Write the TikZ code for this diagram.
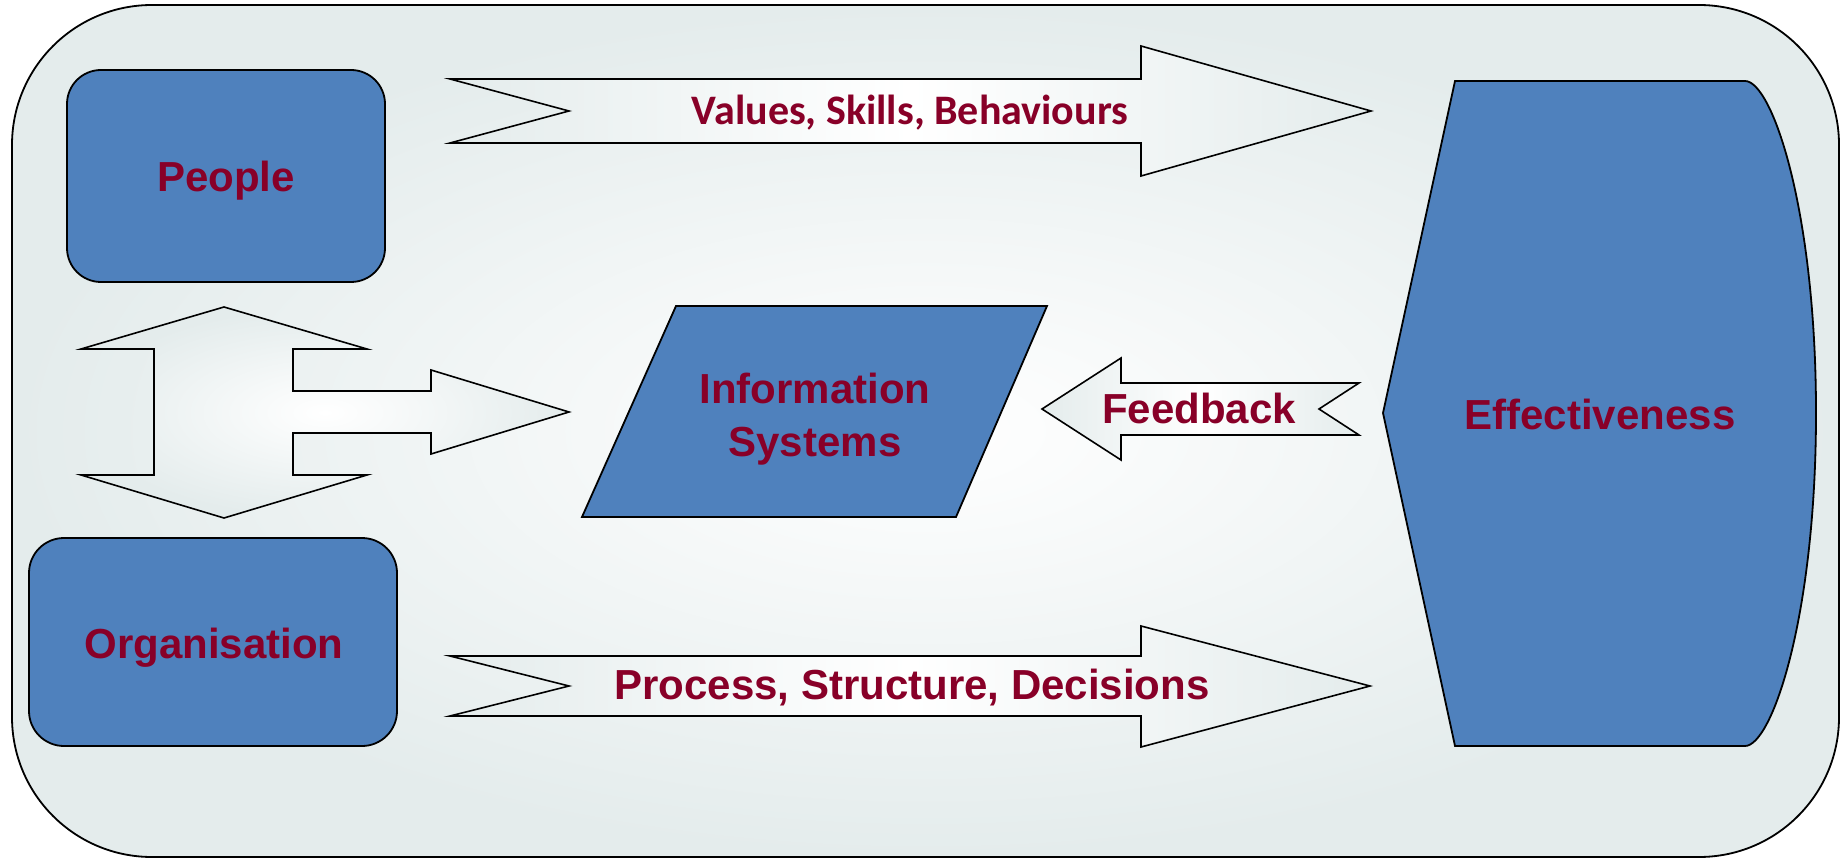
\documentclass[tikz,border=0pt]{standalone}
\usepackage{fontspec}
\setmainfont{Liberation Sans}
\newfontfamily\calfont{Carlito}
\definecolor{boxblue}{RGB}{79,129,189}
\definecolor{txtred}{RGB}{136,0,40}
\definecolor{bgc}{RGB}{228,236,236}
\begin{document}
\begin{tikzpicture}[x=1pt,y=-1pt,
  lbl/.style={text=txtred, font=\fontsize{42}{53}\selectfont\bfseries, align=center, inner sep=0pt},
  bluebox/.style={fill=boxblue, draw=black, line width=1.8pt},
  blockarrow/.style={draw=black, line width=1.6pt, left color=bgc, right color=bgc, middle color=white},
  hubarrow/.style={draw=black, line width=1.6pt, inner color=white, outer color=bgc}]
\useasboundingbox (0,0) rectangle (1841,858);
\fill[white] (0,0) rectangle (1841,858);
% outer panel
\shade[inner color=white, outer color=bgc, draw=black, line width=1.8pt, rounded corners=140pt]
  (12,5) rectangle (1839,857);
% boxes
\node (people) [bluebox, rounded corners=34pt, minimum width=318pt, minimum height=212pt] at (226,176) {};
\node (peoplet) [lbl] at (226,181) {People};
\node (org) [bluebox, rounded corners=35pt, minimum width=368pt, minimum height=208pt] at (213,642) {};
\node (orgt) [lbl] at (214,648) {Organisation};
% information systems parallelogram
\draw[bluebox] (676,306) -- (1047,306) -- (956,517) -- (582,517) -- cycle;
\node (is) [lbl] at (815,419) {Information\\Systems};
% effectiveness shape
\draw[bluebox] (1455,81) -- (1745,81) .. controls (1772,81) and (1816,210) .. (1816,413)
  .. controls (1816,616) and (1772,746) .. (1745,746) -- (1455,746) -- (1383,413) -- cycle;
\node (eff) [lbl] at (1600,414) {Effectiveness};
% values arrow
\draw[blockarrow] (450,79) -- (1141,79) -- (1141,46) -- (1371,111) -- (1141,176) -- (1141,143) -- (450,143) -- (569,111) -- cycle;
\node (values) [lbl, font=\calfont\fontsize{42}{53}\selectfont\bfseries] at (910,113) {Values, Skills, Behaviours};
% process arrow
\draw[blockarrow] (450,656) -- (1141,656) -- (1141,626) -- (1370,686) -- (1141,747) -- (1141,716) -- (450,716) -- (569,686) -- cycle;
\node (process) [lbl] at (912,688) {Process, Structure, Decisions};
% feedback arrow
\draw[blockarrow] (1042,409) -- (1121,358) -- (1121,383) -- (1359,383) -- (1319,409) -- (1359,435) -- (1121,435) -- (1121,460) -- cycle;
\node (feedback) [lbl] at (1199,408) {Feedback};
% hub double arrow with branch
\draw[hubarrow] (224,307) -- (367,349) -- (293,349) -- (293,391) -- (431,391) -- (431,370) -- (569,412) -- (431,454) -- (431,433) -- (293,433) -- (293,475) -- (367,475) -- (224,518) -- (81,475) -- (154,475) -- (154,349) -- (81,349) -- cycle;
\end{tikzpicture}
\end{document}
